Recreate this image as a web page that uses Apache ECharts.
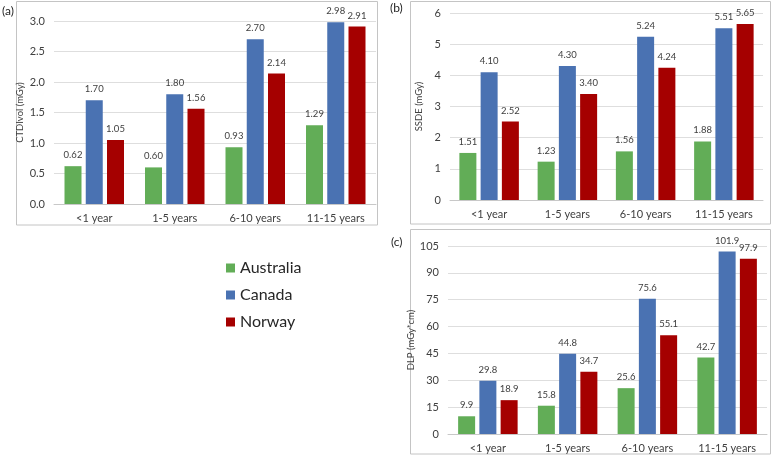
<!DOCTYPE html>
<html>
<head>
<meta charset="utf-8">
<script src="https://cdn.jsdelivr.net/npm/echarts@6/dist/echarts.min.js"></script>
<style>
html,body{margin:0;padding:0;background:#fff;}
#chart{width:772px;height:459px;}
</style>
</head>
<body>
<div id="chart"></div>
<script>
const categories = ['<1 year', '1-5 years', '6-10 years', '11-15 years'];
const countries = ['Australia', 'Canada', 'Norway'];
const ctdiAustralia = [0.62, 0.60, 0.93, 1.29];
const ctdiCanada = [1.70, 1.80, 2.70, 2.98];
const ctdiNorway = [1.05, 1.56, 2.14, 2.91];
const ssdeAustralia = [1.51, 1.23, 1.56, 1.88];
const ssdeCanada = [4.10, 4.30, 5.24, 5.51];
const ssdeNorway = [2.52, 3.40, 4.24, 5.65];
const dlpAustralia = [9.9, 15.8, 25.6, 42.7];
const dlpCanada = [29.8, 44.8, 75.6, 101.9];
const dlpNorway = [18.9, 34.7, 55.1, 97.9];
const colors = ['#62ad57', '#4a72b2', '#a50000'];

const font = 'Lato';
const txt = '#404040';

const chart = echarts.init(document.getElementById('chart'));

function xAxis(gi) {
  return {
    type: 'category', gridIndex: gi, data: categories,
    axisLine: {lineStyle: {color: '#c8c8c8'}},
    axisTick: {show: false},
    axisLabel: {color: txt, fontSize: 11, fontFamily: font, margin: 9}
  };
}
function yAxis(gi, max, interval, name, dec, nameGap) {
  return {
    type: 'value', gridIndex: gi, min: 0, max: max, interval: interval,
    name: name, nameLocation: 'middle', nameGap: nameGap, nameRotate: 90,
    nameTextStyle: {color: txt, fontSize: 9.5, fontFamily: font},
    axisLine: {show: false}, axisTick: {show: false},
    splitLine: {lineStyle: {color: '#dedede'}},
    axisLabel: {color: txt, fontSize: 11, fontFamily: font, margin: 9,
      formatter: v => v.toFixed(dec)}
  };
}
function bar(name, gi, data, color, dec, bw) {
  return {
    type: 'bar', name: name, xAxisIndex: gi, yAxisIndex: gi, data: data,
    barWidth: bw, barGap: '25%',
    itemStyle: {color: color},
    label: {show: true, position: 'top', distance: 6, color: txt, fontSize: 9.5, fontFamily: font,
      formatter: p => p.value.toFixed(dec)}
  };
}

const option = {
  animation: false,
  backgroundColor: '#fff',
  textStyle: {fontFamily: font},
  grid: [
    {left: 54, right: 396, top: 21, bottom: 255},
    {left: 450, right: 9, top: 13, bottom: 259},
    {left: 448, right: 5, top: 246, bottom: 25}
  ],
  xAxis: [xAxis(0), xAxis(1), xAxis(2)],
  yAxis: [
    yAxis(0, 3, 0.5, 'CTDIvol (mGy)', 1, 29),
    yAxis(1, 6, 1, 'SSDE (mGy)', 0, 26),
    yAxis(2, 105, 15, 'DLP (mGy*cm)', 0, 29)
  ],
  legend: {
    orient: 'vertical', left: 221, top: 255, itemWidth: 9, itemHeight: 9, itemGap: 11,
    icon: 'rect', data: countries,
    textStyle: {color: '#262626', fontSize: 16, fontFamily: font}
  },
  graphic: [
    {type: 'rect', shape: {x: 16.5, y: 1.5, width: 361, height: 223.5}, style: {fill: 'none', stroke: '#c4c4c4', lineWidth: 1}, silent: true},
    {type: 'rect', shape: {x: 410.5, y: 1.5, width: 360, height: 222.5}, style: {fill: 'none', stroke: '#c4c4c4', lineWidth: 1}, silent: true},
    {type: 'rect', shape: {x: 410.5, y: 229.5, width: 360, height: 224.5}, style: {fill: 'none', stroke: '#c4c4c4', lineWidth: 1}, silent: true},
    {type: 'text', left: 2, top: 5, style: {text: '(a)', fill: '#262626', fontSize: 12, fontFamily: font}},
    {type: 'text', left: 390, top: 2, style: {text: '(b)', fill: '#262626', fontSize: 12, fontFamily: font}},
    {type: 'text', left: 391, top: 236, style: {text: '(c)', fill: '#262626', fontSize: 12, fontFamily: font}}
  ],
  series: [
    bar('Australia', 0, ctdiAustralia, colors[0], 2, 17),
    bar('Canada', 0, ctdiCanada, colors[1], 2, 17),
    bar('Norway', 0, ctdiNorway, colors[2], 2, 17),
    bar('Australia', 1, ssdeAustralia, colors[0], 2, 17),
    bar('Canada', 1, ssdeCanada, colors[1], 2, 17),
    bar('Norway', 1, ssdeNorway, colors[2], 2, 17),
    bar('Australia', 2, dlpAustralia, colors[0], 1, 17),
    bar('Canada', 2, dlpCanada, colors[1], 1, 17),
    bar('Norway', 2, dlpNorway, colors[2], 1, 17)
  ]
};
chart.setOption(option);
</script>
</body>
</html>
